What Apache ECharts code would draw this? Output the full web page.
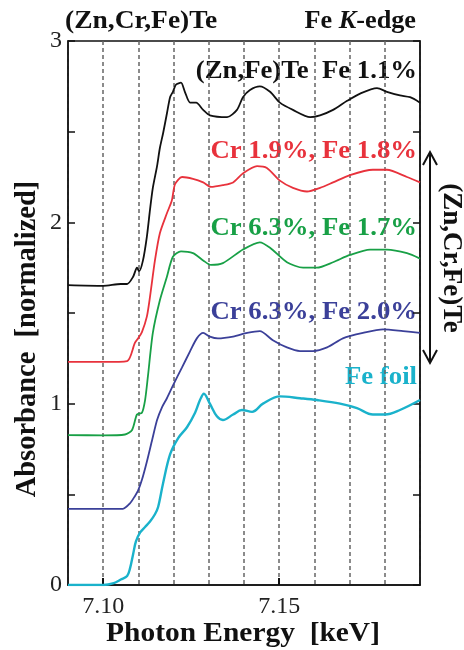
<!DOCTYPE html>
<html><head><meta charset="utf-8">
<script src="https://cdn.jsdelivr.net/npm/echarts@6/dist/echarts.min.js"></script>
<style>html,body{margin:0;padding:0;background:#fff}#c{width:464px;height:650px}</style>
</head><body><div id="c"></div>
<script>
// ---- data (energy in keV, absorbance normalized + offset) ----
const eBlack = [7.090,7.100,7.105,7.1068,7.1085,7.1096,7.1102,7.1113,7.1124,7.1133,7.1141,7.1153,7.1161,7.1170,7.1181,7.1190,7.1198,7.1207,7.1221,7.1232,7.1247,7.1264,7.1284,7.1303,7.1352,7.1380,7.1397,7.1417,7.1445,7.1474,7.1502,7.1539,7.1588,7.1616,7.1653,7.1693,7.1730,7.1778,7.1806,7.1843,7.1872,7.190];
const aBlack = [1.654,1.65,1.66,1.66,1.70,1.75,1.73,1.79,1.92,2.07,2.19,2.31,2.41,2.49,2.60,2.69,2.72,2.76,2.77,2.72,2.66,2.66,2.62,2.59,2.58,2.62,2.69,2.73,2.75,2.72,2.66,2.62,2.58,2.59,2.62,2.67,2.71,2.74,2.72,2.70,2.69,2.66];

const eRed = [7.090,7.100,7.1068,7.1090,7.1099,7.1110,7.1124,7.1133,7.1147,7.1161,7.1181,7.1195,7.1204,7.1224,7.1255,7.1284,7.1306,7.1340,7.1369,7.1397,7.1437,7.1465,7.1502,7.1539,7.1579,7.1616,7.1653,7.1701,7.1766,7.1806,7.1863,7.190];
const aRed = [1.23,1.23,1.235,1.335,1.36,1.395,1.48,1.59,1.79,1.94,2.05,2.12,2.21,2.25,2.24,2.22,2.195,2.205,2.22,2.27,2.31,2.30,2.23,2.19,2.17,2.19,2.22,2.26,2.29,2.29,2.25,2.22];

const eGreen = [7.090,7.100,7.1062,7.1082,7.1096,7.1110,7.1119,7.1127,7.1141,7.1161,7.1181,7.1198,7.1221,7.1255,7.1284,7.1306,7.1340,7.1397,7.1445,7.1474,7.1522,7.1568,7.1607,7.1653,7.1701,7.1758,7.1806,7.1863,7.190];
const aGreen = [0.827,0.825,0.83,0.855,0.94,0.95,1.02,1.15,1.39,1.57,1.70,1.81,1.84,1.83,1.79,1.765,1.775,1.85,1.89,1.86,1.78,1.75,1.75,1.78,1.82,1.85,1.85,1.83,1.80];

const eBlue = [7.090,7.100,7.1056,7.1076,7.1090,7.1099,7.1110,7.1124,7.1139,7.1153,7.1167,7.1181,7.1198,7.1224,7.1247,7.1266,7.1284,7.1303,7.1326,7.1369,7.1409,7.1445,7.1482,7.1522,7.1559,7.1596,7.1636,7.1681,7.1738,7.1795,7.1852,7.190];
const aBlue = [0.42,0.42,0.42,0.45,0.49,0.52,0.58,0.68,0.80,0.91,0.98,1.03,1.10,1.20,1.29,1.36,1.39,1.37,1.36,1.37,1.39,1.40,1.35,1.31,1.29,1.29,1.31,1.36,1.39,1.41,1.40,1.39];

const eFoil = [7.090,7.100,7.103,7.105,7.1068,7.1076,7.1085,7.1093,7.1105,7.1119,7.1133,7.1147,7.1156,7.1170,7.1190,7.1213,7.1238,7.1261,7.1275,7.1286,7.1303,7.1323,7.1340,7.1369,7.1394,7.1423,7.1454,7.1502,7.1559,7.1607,7.1673,7.1721,7.1766,7.1801,7.1843,7.190];
const aFoil = [0.0,0.0,0.01,0.03,0.05,0.09,0.17,0.24,0.29,0.32,0.35,0.39,0.43,0.56,0.72,0.81,0.87,0.95,1.02,1.055,1.00,0.93,0.91,0.94,0.965,0.955,1.00,1.04,1.03,1.02,1.00,0.975,0.94,0.94,0.965,1.02];

const xTickLabels = [7.10, 7.15];
const yTickLabels = [0, 1, 2, 3];

const seriesNames = ['(Zn,Fe)Te  Fe 1.1%', 'Cr 1.9%, Fe 1.8%', 'Cr 6.3%, Fe 1.7%', 'Cr 6.3%, Fe 2.0%', 'Fe foil'];
const seriesColors = ['#111111', '#e8323c', '#18a046', '#3b4099', '#1ab2cb'];

function zip(xs, ys) { return xs.map((x, i) => [x, ys[i]]); }
const seriesData = [zip(eBlack, aBlack), zip(eRed, aRed), zip(eGreen, aGreen), zip(eBlue, aBlue), zip(eFoil, aFoil)];
const labelY = [72, 152, 229, 313, 378];

const serif = '"Liberation Serif", "Times New Roman", serif';
const chart = echarts.init(document.getElementById('c'), null, {renderer: 'canvas'});

const series = seriesData.map((d, i) => ({
  type: 'line', name: seriesNames[i], data: d, showSymbol: false,
  smooth: i === 4 ? 0.35 : 0.25,
  lineStyle: {color: seriesColors[i], width: i === 4 ? 2.4 : 1.8}, z: 3, animation: false
}));

const graphics = seriesNames.map((n, i) => ({
  type: 'text', x: 417, y: labelY[i], scaleX: 1.07,
  style: {text: n, font: 'bold 25px ' + serif, fill: seriesColors[i], textAlign: 'right', textVerticalAlign: 'middle'}
}));
graphics.push(
  {type: 'text', x: 65, y: 22, scaleX: 1.1, style: {text: '(Zn,Cr,Fe)Te', font: 'bold 25px ' + serif, fill: '#111', textAlign: 'left', textVerticalAlign: 'middle'}},
  {type: 'text', x: 416, y: 22, scaleX: 1.05, style: {text: '{a|Fe }{b|K}{a|-edge}', textAlign: 'right', textVerticalAlign: 'middle',
    rich: {a: {font: 'bold 25px ' + serif, fill: '#111'}, b: {font: 'italic bold 25px ' + serif, fill: '#111'}}}},
  {type: 'text', x: 28, y: 339, rotation: Math.PI / 2, style: {text: 'Absorbance  [normalized]', font: 'bold 28.5px ' + serif, fill: '#111', textAlign: 'center', textVerticalAlign: 'middle'}},
  {type: 'text', x: 243, y: 634, scaleX: 1.09, style: {text: 'Photon Energy  [keV]', font: 'bold 27px ' + serif, fill: '#111', textAlign: 'center', textVerticalAlign: 'middle'}},
  {type: 'text', x: 451, y: 258, rotation: -Math.PI / 2, style: {text: '(Zn,Cr,Fe)Te', font: 'bold 27px ' + serif, fill: '#111', textAlign: 'center', textVerticalAlign: 'middle'}},
  {type: 'line', shape: {x1: 430, y1: 152, x2: 430, y2: 363}, style: {stroke: '#111', lineWidth: 2}},
  {type: 'polyline', shape: {points: [[423, 165], [430, 152], [437, 165]]}, style: {stroke: '#111', lineWidth: 2, fill: null}},
  {type: 'polyline', shape: {points: [[423, 350], [430, 363], [437, 350]]}, style: {stroke: '#111', lineWidth: 2, fill: null}}
);

chart.setOption({
  animation: false,
  backgroundColor: '#fff',
  grid: {left: 68, right: 44, top: 41, bottom: 65, show: true, borderColor: '#111', borderWidth: 1.5, backgroundColor: 'transparent'},
  xAxis: [
    {type: 'value', min: 7.09, max: 7.19, interval: 0.01, position: 'bottom',
     axisLine: {show: true, lineStyle: {color: '#111', width: 1.5}},
     axisTick: {show: false}, axisLabel: {show: false},
     splitLine: {show: true, lineStyle: {color: '#666', width: 1.5, type: [4, 3]}}},
    {type: 'value', min: 7.09, max: 7.19, position: 'bottom',
     axisLine: {show: false}, splitLine: {show: false},
     axisTick: {show: true, inside: true, length: 7, customValues: xTickLabels, lineStyle: {color: '#111', width: 2}},
     axisLabel: {show: true, customValues: xTickLabels, margin: 10, color: '#222', fontFamily: serif, fontSize: 24,
       formatter: v => v.toFixed(2)}}
  ],
  yAxis: [
    {type: 'value', min: 0, max: 3, interval: 0.5, position: 'left',
     axisLine: {show: true, lineStyle: {color: '#111', width: 1.5}},
     axisTick: {show: true, inside: true, length: 7, lineStyle: {color: '#111', width: 1.5}},
     axisLabel: {show: true, margin: 6, color: '#222', fontFamily: serif, fontSize: 24,
       formatter: v => (yTickLabels.indexOf(Math.round(v * 1000) / 1000) >= 0 ? String(Math.round(v)) : '')},
     splitLine: {show: false}},
    {type: 'value', min: 0, max: 3, interval: 0.5, position: 'right',
     axisLine: {show: true, lineStyle: {color: '#111', width: 1.5}},
     axisTick: {show: true, inside: true, length: 7, lineStyle: {color: '#111', width: 1.5}},
     axisLabel: {show: false}, splitLine: {show: false}}
  ],
  series: series,
  graphic: graphics
});
</script></body></html>
